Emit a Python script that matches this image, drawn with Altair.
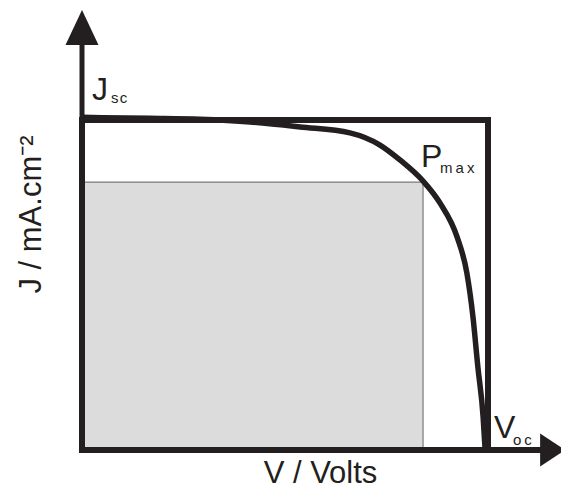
import altair as alt
import pandas as pd

# ---- data (V normalised to Voc, J normalised to Jsc) ----
V_curve = [0.0, 0.167, 0.291, 0.414, 0.537, 0.660, 0.734, 0.783, 0.840,
           0.882, 0.924, 0.948, 0.963, 0.975, 0.988, 0.993]
J_curve = [1.008, 1.005, 1.002, 0.994, 0.979, 0.961, 0.924, 0.879, 0.815,
           0.748, 0.645, 0.536, 0.403, 0.252, 0.100, 0.0]

Jsc = 1.0
Voc = 1.0
Vmp = 0.840
Jmp = 0.812
V_axis_end = 1.19
J_axis_end = 1.333

label_main = ["J", "P", "V"]
label_sub = ["s\u200ac", "m\u2009a\u2009x", "o\u2009c"]
label_V = [0.0, Vmp, Voc]
label_J = [Jsc, Jmp, 0.0]

x_title = "V / Volts"
y_title = "J / mA.cm\u207b\u00b2"

# ---- layout (pixels) ----
W, H = 553, 475
X0_PX, PX_PER_V = 74, 406
Y0_PX, PX_PER_J = 442, 330
x_domain = [-X0_PX / PX_PER_V, (W - X0_PX) / PX_PER_V]
y_domain = [-(H - Y0_PX) / PX_PER_J, Y0_PX / PX_PER_J]

INK = "#231f20"
FONT = "Liberation Sans"

xs = alt.Scale(domain=x_domain, nice=False, zero=False)
ys = alt.Scale(domain=y_domain, nice=False, zero=False)
x_axis = alt.Axis(title=x_title, domain=False, ticks=False, labels=False, grid=False,
                  titleFont=FONT, titleFontSize=31, titleFontWeight="normal",
                  titleColor=INK, titleX=312, titleY=-1, titleAlign="center",
                  titleBaseline="alphabetic")
y_axis = alt.Axis(title=y_title, domain=False, ticks=False, labels=False, grid=False,
                  titleFont=FONT, titleFontSize=31, titleFontWeight="normal",
                  titleColor=INK, titleX=32, titleY=206, titleAngle=270,
                  titleAlign="center", titleBaseline="alphabetic")


def X(f):
    return alt.X(f, type="quantitative", scale=xs, axis=x_axis)


def Y(f):
    return alt.Y(f, type="quantitative", scale=ys, axis=y_axis)


# gray max-power rectangle
df_mp = pd.DataFrame({"V0": [0.0], "V1": [Vmp], "J0": [0.0], "J1": [Jmp]})
gray = alt.Chart(df_mp).mark_rect(fill="#dcdcdc", stroke="#7a7a7a", strokeWidth=1.2).encode(
    x=X("V0"), x2="V1", y=Y("J0"), y2="J1")

# Jsc x Voc box
df_box = pd.DataFrame({"V0": [0.0], "V1": [Voc], "J0": [0.0], "J1": [Jsc]})
box = alt.Chart(df_box).mark_rect(fillOpacity=0, stroke=INK, strokeWidth=6).encode(
    x=X("V0"), x2="V1", y=Y("J0"), y2="J1")

# J-V curve
df_curve = pd.DataFrame({"V": V_curve, "J": J_curve})
curve = alt.Chart(df_curve).mark_line(color=INK, strokeWidth=5.5, interpolate="monotone").encode(
    x=X("V"), y=Y("J"), order=alt.Order("V:Q"))

# axis lines
df_xax = pd.DataFrame({"V0": [0.0], "V1": [V_axis_end - 0.04], "J": [0.0]})
xline = alt.Chart(df_xax).mark_rule(color=INK, strokeWidth=6, strokeCap="square").encode(
    x=X("V0"), x2="V1", y=Y("J"))
df_yax = pd.DataFrame({"V": [0.0], "J0": [0.0], "J1": [J_axis_end - 0.06]})
yline = alt.Chart(df_yax).mark_rule(color=INK, strokeWidth=5, strokeCap="square").encode(
    x=X("V"), y=Y("J0"), y2="J1")

# arrow heads
up_path = "M0,0 L0.943,2 L-0.943,2 Z"
right_path = "M0,0 L-2,-1.32 L-2,1.32 Z"
up_arrow = alt.Chart(pd.DataFrame({"V": [0.0], "J": [J_axis_end]})).mark_point(
    shape=up_path, size=1225, filled=True, fill=INK, opacity=1, strokeWidth=0).encode(
    x=X("V"), y=Y("J"))
right_arrow = alt.Chart(pd.DataFrame({"V": [V_axis_end], "J": [0.0]})).mark_point(
    shape=right_path, size=625, filled=True, fill=INK, opacity=1, strokeWidth=0).encode(
    x=X("V"), y=Y("J"))

# labels
main_off = [(10, -20), (-2, -15), (6, -12)]
sub_off = [(29, -17), (17, -9), (25, -5)]
texts = []
for i in range(3):
    d = pd.DataFrame({"V": [label_V[i]], "J": [label_J[i]], "t": [label_main[i]], "s": [label_sub[i]]})
    texts.append(alt.Chart(d).mark_text(
        align="left", baseline="alphabetic", font=FONT, fontSize=32, color=INK,
        dx=main_off[i][0], dy=main_off[i][1]).encode(x=X("V"), y=Y("J"), text="t:N"))
    texts.append(alt.Chart(d).mark_text(
        align="left", baseline="alphabetic", font=FONT, fontSize=15, color=INK,
        dx=sub_off[i][0], dy=sub_off[i][1]).encode(x=X("V"), y=Y("J"), text="s:N"))

chart = alt.layer(gray, box, curve, xline, yline, up_arrow, right_arrow, *texts).properties(
    width=W, height=H, padding=0, autosize=alt.AutoSizeParams(type="none"),
    background="white"
).configure_view(strokeWidth=0)

chart.save("out.html", embed_options={"renderer": "svg", "actions": False})
